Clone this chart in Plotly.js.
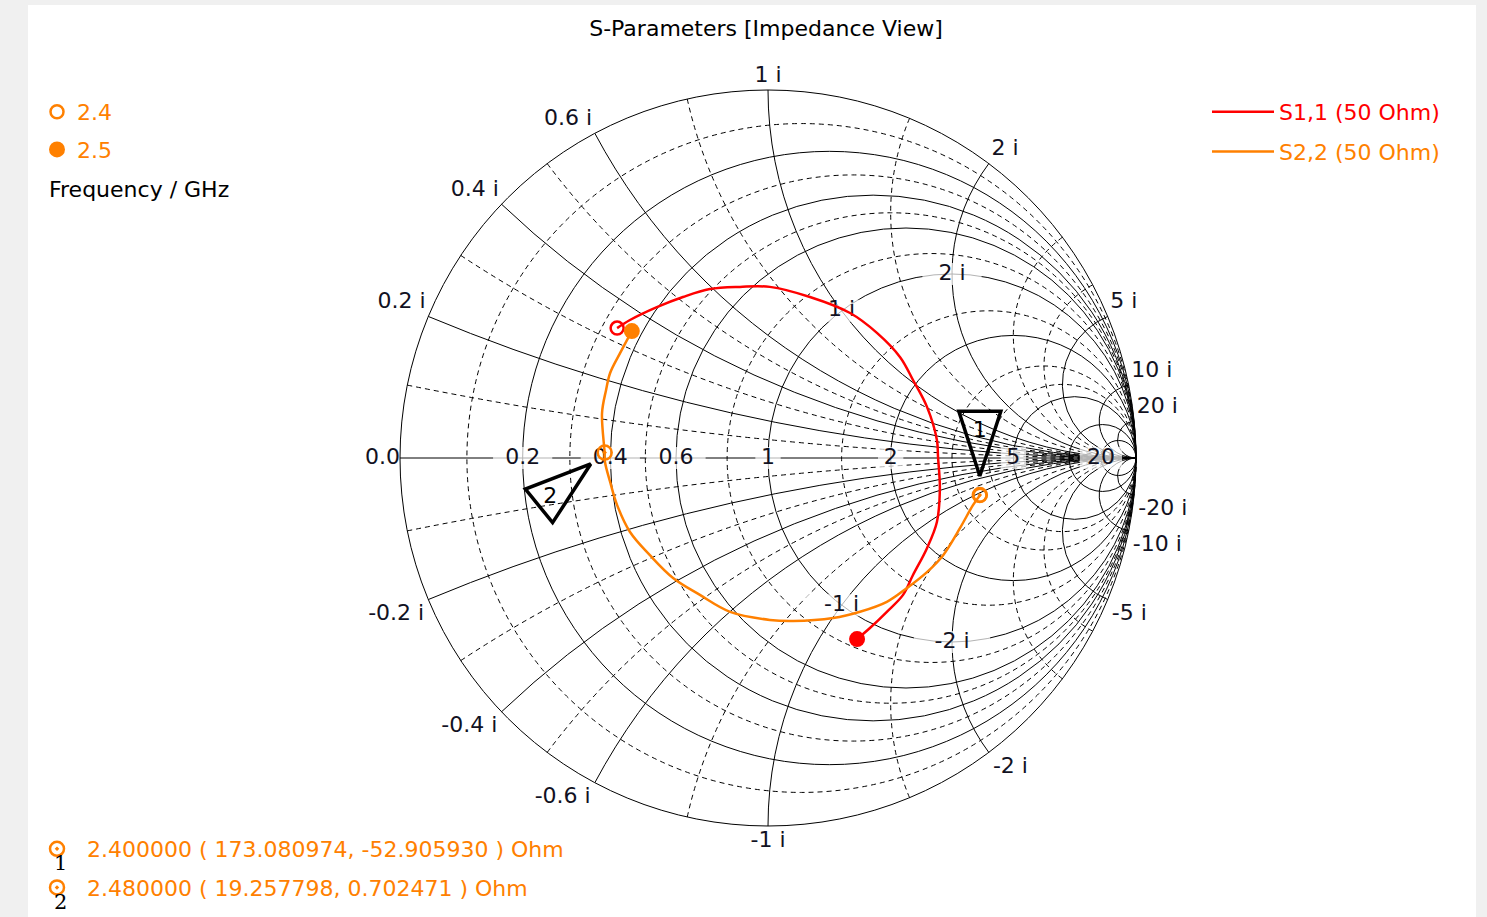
<!DOCTYPE html>
<html><head><meta charset="utf-8">
<script src="https://cdn.plot.ly/plotly-3.0.1.min.js"></script>
<style>html,body{margin:0;padding:0;background:#f0f0f0;overflow:hidden}#chart{width:1487px;height:917px}</style>
</head><body><div id="chart"></div>
<script>
// ---- data: reflection coefficients (S-parameters), 2.4 GHz -> 2.5 GHz ----
const s11Re = [-0.410,-0.375,-0.302,-0.231,-0.158,-0.076,0.005,0.114,0.223,0.296,0.359,0.394,0.432,0.459,0.462,0.467,0.459,0.432,0.394,0.367,0.323,0.277,0.242];
const s11Im = [0.353,0.375,0.410,0.4375,0.459,0.465,0.465,0.4375,0.394,0.340,0.274,0.212,0.139,0.049,0.003,-0.082,-0.174,-0.245,-0.318,-0.372,-0.418,-0.462,-0.492];
const s22Re = [0.576,0.557,0.522,0.476,0.432,0.378,0.323,0.250,0.177,0.068,0.005,-0.103,-0.185,-0.258,-0.321,-0.375,-0.410,-0.429,-0.443,-0.444,-0.451,-0.440,-0.429,-0.402,-0.370];
const s22Im = [-0.101,-0.128,-0.190,-0.264,-0.310,-0.353,-0.391,-0.418,-0.435,-0.443,-0.440,-0.418,-0.372,-0.326,-0.264,-0.201,-0.128,-0.065,-0.011,0.015,0.122,0.185,0.231,0.285,0.345];
const seriesNames = ['S1,1 (50 Ohm)', 'S2,2 (50 Ohm)'];
const seriesColors = ['#ff0000', '#ff8000'];
const freqLabels = ['2.4', '2.5'];
const z0 = 50;
// markers on S2,2
const markerIds = ['1', '2'];
const markerFreq = [2.4, 2.48];
const markerR = [173.080974, 19.257798];
const markerX = [-52.905930, 0.702471];
// grid / tick values (normalised impedance)
const realTicks = [0.2, 0.4, 0.6, 1, 2, 5, 20];
const imagTicks = [-20, -10, -5, -2, -1, -0.6, -0.4, -0.2, 0.2, 0.4, 0.6, 1, 2, 5, 10, 20];
const realMinor = [0.1, 0.3, 0.5, 0.8, 1.5, 3, 4];
const imagMinor = [-4, -3, -1.5, -0.8, -0.5, -0.3, -0.1, 0.1, 0.3, 0.5, 0.8, 1.5, 3, 4];
const realExtra = [10];
const innerIm = [1, 2, -1, -2];
const innerText = ['1 i', '2 i', '-1 i', '-2 i'];

// ---- helpers ----
function toZ(re, im) {
  const den = (1 - re) * (1 - re) + im * im;
  return [(1 - re * re - im * im) / den, 2 * im / den];
}
function toZArr(reA, imA) {
  const r = [], x = [];
  reA.forEach((v, i) => { const z = toZ(v, imA[i]); r.push(z[0]); x.push(z[1]); });
  return {r, x};
}
const z11 = toZArr(s11Re, s11Im);
const z22 = toZArr(s22Re, s22Im);
const mkR = markerR.map(v => v / z0);
const mkX = markerX.map(v => v / z0);
const last11 = z11.r.length - 1, last22 = z22.r.length - 1;

const FONT = 'DejaVu Sans, Verdana, sans-serif';
const FS = 22;
const TXT = '#111122';
const dom = {x: [400 / 1487, 1136 / 1487], y: [1 - 826 / 917, 1 - 90 / 917]};
const textW = s => s.length * 0.55 * FS + 6;   // approx label box width (px)

// outer (reactance) label placement
const imPos = imagTicks.map(v => {
  const a = Math.abs(v);
  const vert = v > 0 ? 'top' : 'bottom';
  const hor = a === 1 ? 'center' : (a < 1 ? 'left' : 'right');
  return vert + ' ' + hor;
});
const imSize = imagTicks.map(v => v > 0 ? 2.6 : 5);
const realText = realTicks.map(String);

const traces = [
  // label "0.0" on major subplot
  {type: 'scattersmith', subplot: 'smith', real: [0], imag: [0], mode: 'text', text: ['0.0'], textposition: 'middle left',
   textfont: {family: FONT, size: FS, color: TXT}, showlegend: false, hoverinfo: 'skip'},
  // reactance labels on the outer circle
  {type: 'scattersmith', subplot: 'smith2', real: imagTicks.map(() => 0), imag: imagTicks, mode: 'markers+text',
   text: imagTicks.map(v => String(v) + ' i'), textposition: imPos, marker: {size: imSize, opacity: 0, color: '#000'},
   textfont: {family: FONT, size: FS, color: TXT}, showlegend: false, hoverinfo: 'skip'},
  // white boxes behind in-chart labels
  {type: 'scattersmith', subplot: 'smith3', real: realTicks.concat(innerIm.map(() => 1)), imag: realTicks.map(() => 0).concat(innerIm),
   mode: 'markers', showlegend: false, hoverinfo: 'skip',
   marker: {symbol: 'line-ew', size: realText.concat(innerText).map(textW), color: '#ffffff', line: {width: 22, color: '#ffffff'}}},
  // real-axis labels
  {type: 'scattersmith', subplot: 'smith3', real: realTicks, imag: realTicks.map(() => 0), mode: 'text',
   text: realText, textposition: 'middle center', textfont: {family: FONT, size: FS, color: TXT}, showlegend: false, hoverinfo: 'skip'},
  // inner reactance labels on r = 1 circle
  {type: 'scattersmith', subplot: 'smith3', real: innerIm.map(() => 1), imag: innerIm, mode: 'text', text: innerText,
   textposition: 'middle center', textfont: {family: FONT, size: FS, color: TXT}, showlegend: false, hoverinfo: 'skip'},
  // series
  {type: 'scattersmith', subplot: 'smith3', real: z11.r, imag: z11.x, mode: 'lines', name: '<span style="color:' + seriesColors[0] + '">' + seriesNames[0] + '</span>',
   line: {color: seriesColors[0], width: 2.5, shape: 'spline'}, legend: 'legend', legendgroup: 'a'},
  {type: 'scattersmith', subplot: 'smith3', real: z22.r, imag: z22.x, mode: 'lines', name: '<span style="color:' + seriesColors[1] + '">' + seriesNames[1] + '</span>',
   line: {color: seriesColors[1], width: 2.5, shape: 'spline'}, legend: 'legend', legendgroup: 'b'},
  // start / end points
  {type: 'scattersmith', subplot: 'smith3', real: [z22.r[0], z11.r[0]], imag: [z22.x[0], z11.x[0]], mode: 'markers', name: freqLabels[0],
   marker: {symbol: 'circle-open', size: 13, color: [seriesColors[1], seriesColors[0]], line: {width: 2.5}}, legend: 'legend2', legendgroup: 'c'},
  {type: 'scattersmith', subplot: 'smith3', real: [z22.r[last22], z11.r[last11]], imag: [z22.x[last22], z11.x[last11]], mode: 'markers', name: freqLabels[1],
   marker: {symbol: 'circle', size: 16, color: [seriesColors[1], seriesColors[0]]}, legend: 'legend2', legendgroup: 'd'},
  // marker triangles
  {type: 'scattersmith', subplot: 'smith3', real: mkR, imag: mkX, mode: 'markers', showlegend: false, hoverinfo: 'skip',
   marker: {symbol: 'arrow-open', size: [68, 70], angle: [180, 51], standoff: [19, 18], color: '#000', opacity: 1, line: {width: 3.5, color: '#000'}}},
  // marker numbers inside triangles
  {type: 'scattersmith', subplot: 'smith3', real: mkR, imag: mkX, mode: 'markers+text', showlegend: false, hoverinfo: 'skip',
   text: ['1', '2\u00a0\u00a0'], textposition: ['top center', 'bottom left'], textfont: {family: FONT, size: FS, color: '#000'},
   marker: {size: [83, 52], opacity: 0, color: '#000'}}
];
// marker points + readouts
markerIds.forEach((id, i) => {
  traces.push({type: 'scattersmith', subplot: 'smith3', real: [mkR[i]], imag: [mkX[i]], mode: 'markers',
    name: markerFreq[i].toFixed(6) + ' ( ' + markerR[i].toFixed(6) + ', ' + markerX[i].toFixed(6) + ' ) Ohm',
    marker: {symbol: 'circle-open-dot', size: 14, color: seriesColors[1], line: {width: 2.5}}, legend: 'legend3', legendgroup: 'm' + id});
});

const axMajorR = {tickvals: realTicks, showticklabels: false, ticks: '', showline: true, linecolor: '#000', linewidth: 1,
  gridcolor: '#000', gridwidth: 1};
const axMajorI = {tickvals: imagTicks, showticklabels: false, ticks: '', showline: true, linecolor: '#000', linewidth: 1,
  gridcolor: '#000', gridwidth: 1};
const axMinorR = {tickvals: realMinor, showticklabels: false, ticks: '', showline: false, gridcolor: '#000', gridwidth: 1, griddash: '5px,4px'};
const axMinorI = {tickvals: imagMinor, showticklabels: false, ticks: '', showline: false, gridcolor: '#000', gridwidth: 1, griddash: '5px,4px'};
const axExtraR = {tickvals: realExtra, showticklabels: false, ticks: '', showline: false, gridcolor: '#000', gridwidth: 1};
const axExtraI = {tickvals: [20], showticklabels: false, ticks: '', showline: false, showgrid: false};

const layout = {
  width: 1487, height: 917,
  margin: {l: 0, r: 0, t: 0, b: 0},
  paper_bgcolor: '#f0f0f0',
  font: {family: FONT, size: FS, color: TXT},
  title: {text: 'S-Parameters [Impedance View]', font: {family: FONT, size: FS, color: '#000'},
    x: 766 / 1487, xanchor: 'center', xref: 'container', y: 1 - 28 / 917, yanchor: 'middle', yref: 'container'},
  smith: {domain: dom, bgcolor: '#ffffff', realaxis: axMajorR, imaginaryaxis: axMajorI},
  smith2: {domain: dom, bgcolor: 'rgba(0,0,0,0)', realaxis: axMinorR, imaginaryaxis: axMinorI},
  smith3: {domain: dom, bgcolor: 'rgba(0,0,0,0)', realaxis: axExtraR, imaginaryaxis: axExtraI},
  shapes: [{type: 'rect', xref: 'paper', yref: 'paper', x0: 28 / 1487, x1: 1476 / 1487, y0: 0, y1: 1 - 5 / 917,
    fillcolor: '#ffffff', line: {width: 0}, layer: 'below'}],
  legend: {x: 1207 / 1487, xanchor: 'left', y: 1 - 91 / 917, yanchor: 'top', bgcolor: 'rgba(0,0,0,0)',
    font: {family: FONT, size: FS}, traceorder: 'grouped', tracegroupgap: 8, itemwidth: 62},
  legend2: {x: 37 / 1487, xanchor: 'left', y: 1 - 91 / 917, yanchor: 'top', bgcolor: 'rgba(0,0,0,0)',
    font: {family: FONT, size: FS, color: seriesColors[1]}, traceorder: 'grouped', tracegroupgap: 6},
  legend3: {x: 27 / 1487, xanchor: 'left', y: 1 - 828 / 917, yanchor: 'top', bgcolor: 'rgba(0,0,0,0)',
    font: {family: FONT, size: FS, color: seriesColors[1]}, traceorder: 'grouped', tracegroupgap: 7, itemwidth: 50},
  annotations: [
    {text: 'Frequency / GHz', xref: 'paper', yref: 'paper', x: 47 / 1487, y: 1 - 189 / 917, xanchor: 'left', yanchor: 'middle',
     showarrow: false, font: {family: FONT, size: FS, color: '#000'}},
    ...markerIds.map((id, i) => ({text: id, xref: 'paper', yref: 'paper', x: 60 / 1487, y: 1 - (863 + 39 * i) / 917,
     xanchor: 'center', yanchor: 'middle', showarrow: false, font: {family: 'DejaVu Serif, serif', size: 21, color: '#000'}}))
  ],
  showlegend: true
};

Plotly.newPlot('chart', traces, layout, {staticPlot: true, displayModeBar: false});
</script>
</body></html>
